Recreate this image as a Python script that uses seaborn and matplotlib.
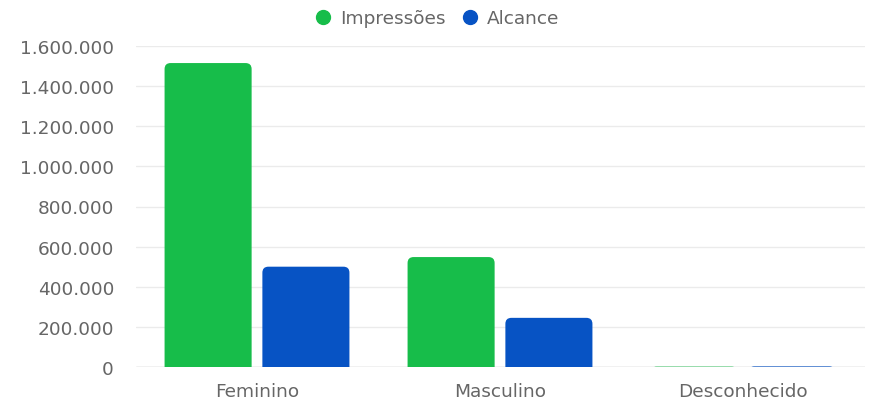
import matplotlib
matplotlib.use("Agg")
import matplotlib.pyplot as plt
import seaborn as sns
import pandas as pd
from matplotlib.patches import FancyBboxPatch
from matplotlib.lines import Line2D
from matplotlib.ticker import FuncFormatter

categories = ["Feminino", "Masculino", "Desconhecido"]
impressoes = [1515000, 548000, 2000]
alcance = [500000, 245000, 3000]
series_names = ["Impressões", "Alcance"]
colors = ["#17BD4A", "#0753C4"]

df = pd.DataFrame({
    "categoria": categories * 2,
    "valor": impressoes + alcance,
    "serie": [series_names[0]] * 3 + [series_names[1]] * 3,
})

sns.set_theme(style="white")
plt.rcParams["font.family"] = ["DejaVu Sans"]
TXT = "#666666"
FS = 13.3

fig = plt.figure(figsize=(8.73, 4.10), dpi=100)
ax = fig.add_axes([135.5 / 873, 42 / 410, 729 / 873, 321 / 410])

sns.barplot(data=df, x="categoria", y="valor", hue="serie", palette=colors,
            width=0.805, gap=0.11, ax=ax, legend=False, saturation=1)

ax.set_ylim(0, 1600000)
ax.set_xlim(-0.5, 2.5)
ax.set_yticks(range(0, 1600001, 200000))
ax.yaxis.set_major_formatter(FuncFormatter(lambda v, p: f"{int(v):,}".replace(",", ".")))
ax.grid(axis="y", color="#ebebeb", linewidth=1)
ax.set_axisbelow(True)
for s in ax.spines.values():
    s.set_visible(False)
ax.axhline(0, color="#c8c8c8", linewidth=1, zorder=1)
ax.tick_params(axis="y", length=13, width=1, color="#ebebeb", pad=2.5,
               labelsize=FS, labelcolor=TXT)
ax.tick_params(axis="x", length=0, pad=11, labelsize=FS, labelcolor=TXT)
ax.set_xlabel("")
ax.set_ylabel("")

# rounded top corners
fig.canvas.draw()
ax_bb = ax.get_window_extent()
x_per_px = (ax.get_xlim()[1] - ax.get_xlim()[0]) / ax_bb.width
y_per_px = (ax.get_ylim()[1] - ax.get_ylim()[0]) / ax_bb.height
r_px = 6
rx = r_px * x_per_px
aspect = y_per_px / x_per_px
for p in list(ax.patches):
    x0 = p.get_x(); w = p.get_width(); h = p.get_height()
    fc = p.get_facecolor()
    p.set_visible(False)
    ext = r_px * y_per_px
    fb = FancyBboxPatch((x0, -ext * 2), w, h + ext * 2,
                        boxstyle=f"round,pad=0,rounding_size={rx}",
                        mutation_aspect=aspect, facecolor=fc, edgecolor="none",
                        zorder=2)
    ax.add_patch(fb)

handles = [Line2D([], [], marker="o", linestyle="none", markersize=10,
                  markerfacecolor=c, markeredgecolor=c) for c in colors]
fig.legend(handles, series_names, loc="center", bbox_to_anchor=(437 / 873, 1 - 19 / 410),
           ncol=2, frameon=False, fontsize=FS, labelcolor=TXT,
           handletextpad=0.45, columnspacing=0.9, handlelength=0.9)

fig.savefig("out.png", dpi=100)
